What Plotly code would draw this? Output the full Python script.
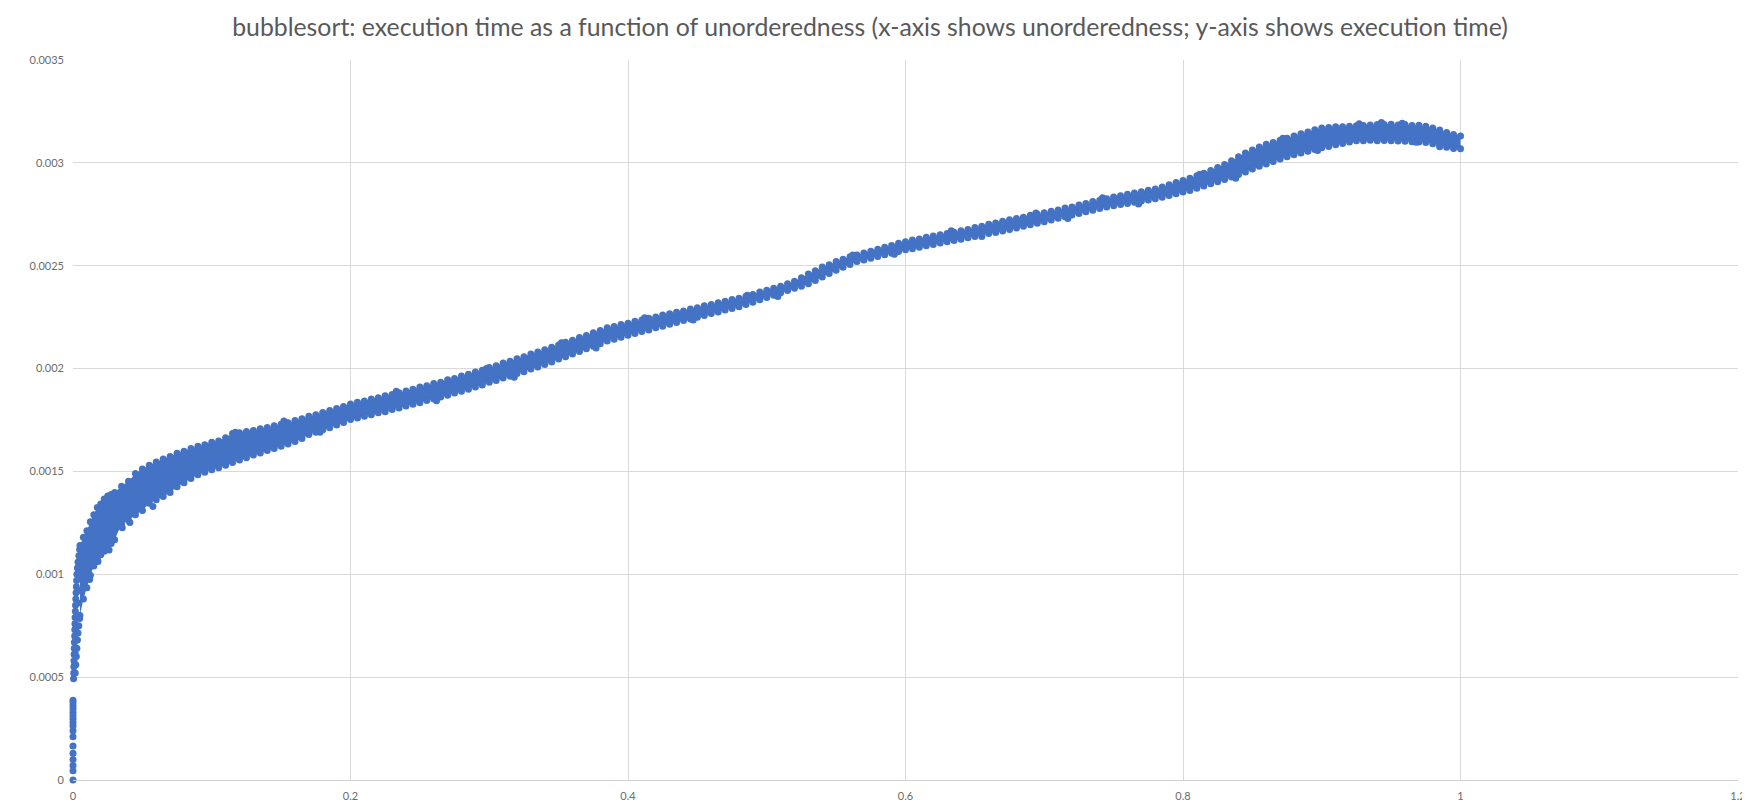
import plotly.graph_objects as go
import numpy as np

# ---- data (x: unorderedness in thousandths, y: execution time in microseconds) ----
# near-vertical column of points at very small unorderedness
col_x_milli = [0, 0, 0, 0, 0, 0, 0, 0, 0, 0, 0, 0, 0, 0, 0, 0, 0,
               0.4, 0.5, 0.6, 0.7, 0.8, 0.9, 1.0, 1.2, 1.3, 1.4, 1.5, 1.7, 1.8, 2.0, 2.2, 2.4, 2.6, 2.8, 3.2, 3.6, 4.2, 4.8,
               1.6, 2.0, 2.4, 2.8, 3.2, 3.6, 4.2, 4.8,
               1.2, 1.5, 1.9, 2.2, 2.8, 3.4, 4.0, 4.4, 3.8, 4.5]
col_y_us = [0, 45, 70, 100, 130, 165, 210, 240, 262, 280, 296, 312, 328, 345, 360, 375, 388,
            492, 520, 550, 580, 610, 640, 670, 700, 730, 760, 790, 820, 850, 880, 910, 940, 970, 1000, 1030, 1060, 1090, 1120,
            520, 560, 600, 640, 680, 715, 750, 785,
            560, 620, 680, 740, 800, 860, 920, 980, 1000, 1040]

# dense band of points: lower and upper envelope at each unorderedness station
band_x_milli = [5, 7.5, 10, 12.5, 15, 17.5, 20, 22.5, 25, 27.5, 30, 35, 40, 45, 50, 55, 60, 65, 70, 75,
                80, 85, 90, 95, 100, 105, 110, 115, 120, 125, 130, 135, 140, 145, 150, 155, 160, 165, 170, 175,
                180, 185, 190, 195, 200, 205, 210, 215, 220, 225, 230, 235, 240, 245, 250, 255, 260, 265, 270, 275,
                280, 285, 290, 295, 300, 305, 310, 315, 320, 325, 330, 335, 340, 345, 350, 355, 360, 365, 370, 375,
                380, 385, 390, 395, 400, 405, 410, 415, 420, 425, 430, 435, 440, 445, 450, 455, 460, 465, 470, 475,
                480, 485, 490, 495, 500, 505, 510, 515, 520, 525, 530, 535, 540, 545, 550, 555, 560, 565, 570, 575,
                580, 585, 590, 595, 600, 605, 610, 615, 620, 625, 630, 635, 640, 645, 650, 655, 660, 665, 670, 675,
                680, 685, 690, 695, 700, 705, 710, 715, 720, 725, 730, 735, 740, 745, 750, 755, 760, 765, 770, 775,
                780, 785, 790, 795, 800, 805, 810, 815, 820, 825, 830, 835, 840, 845, 850, 855, 860, 865, 870, 875,
                880, 885, 890, 895, 900, 905, 910, 915, 920, 925, 930, 935, 940, 945, 950, 955, 960, 965, 970, 975,
                980, 985, 990, 995, 1000]
band_lo_us = [800, 880, 935, 995, 1040, 1075, 1095, 1112, 1125, 1150, 1168, 1245, 1262, 1290, 1310, 1345, 1362, 1378, 1398, 1425,
              1445, 1466, 1484, 1496, 1508, 1518, 1530, 1543, 1556, 1566, 1580, 1590, 1602, 1611, 1622, 1633, 1645, 1660, 1680, 1690,
              1702, 1712, 1726, 1738, 1752, 1760, 1768, 1776, 1785, 1790, 1801, 1808, 1818, 1826, 1834, 1845, 1852, 1862, 1870, 1881,
              1890, 1900, 1911, 1920, 1933, 1942, 1954, 1963, 1976, 1985, 1998, 2008, 2020, 2032, 2046, 2058, 2071, 2083, 2096, 2108,
              2121, 2134, 2143, 2152, 2162, 2170, 2180, 2188, 2198, 2206, 2216, 2224, 2234, 2241, 2250, 2258, 2268, 2275, 2285, 2292,
              2301, 2312, 2322, 2335, 2345, 2356, 2368, 2379, 2390, 2400, 2412, 2428, 2445, 2462, 2478, 2492, 2506, 2520, 2528, 2536,
              2545, 2553, 2561, 2569, 2577, 2583, 2590, 2597, 2603, 2610, 2616, 2622, 2629, 2636, 2642, 2649, 2656, 2662, 2669, 2676,
              2683, 2692, 2699, 2707, 2714, 2722, 2731, 2738, 2746, 2754, 2762, 2770, 2778, 2786, 2791, 2797, 2803, 2808, 2814, 2820,
              2825, 2833, 2841, 2850, 2858, 2866, 2876, 2887, 2898, 2908, 2919, 2931, 2944, 2956, 2970, 2983, 2995, 3006, 3019, 3030,
              3040, 3048, 3057, 3065, 3074, 3080, 3088, 3094, 3101, 3108, 3108, 3110, 3107, 3109, 3108, 3106, 3105, 3103, 3101, 3099,
              3093, 3085, 3076, 3070, 3068]
band_hi_us = [1140, 1180, 1212, 1255, 1290, 1325, 1342, 1366, 1380, 1388, 1398, 1428, 1452, 1490, 1512, 1530, 1546, 1560, 1572, 1588,
              1598, 1612, 1622, 1630, 1642, 1648, 1664, 1684, 1688, 1694, 1699, 1708, 1714, 1722, 1729, 1737, 1748, 1756, 1768, 1776,
              1786, 1796, 1806, 1816, 1828, 1836, 1842, 1852, 1858, 1868, 1874, 1882, 1891, 1899, 1910, 1917, 1928, 1934, 1946, 1952,
              1964, 1972, 1983, 1992, 2005, 2014, 2027, 2036, 2048, 2058, 2071, 2080, 2092, 2104, 2114, 2128, 2138, 2151, 2161, 2174,
              2185, 2198, 2205, 2214, 2220, 2230, 2236, 2245, 2251, 2260, 2267, 2274, 2280, 2290, 2296, 2305, 2311, 2320, 2327, 2336,
              2342, 2351, 2360, 2372, 2381, 2391, 2400, 2412, 2424, 2442, 2460, 2476, 2494, 2505, 2520, 2532, 2543, 2552, 2562, 2570,
              2580, 2590, 2598, 2609, 2617, 2625, 2630, 2638, 2644, 2651, 2656, 2663, 2670, 2676, 2686, 2692, 2701, 2708, 2716, 2723,
              2730, 2736, 2745, 2750, 2758, 2765, 2771, 2780, 2786, 2795, 2802, 2812, 2818, 2826, 2834, 2840, 2847, 2854, 2860, 2867,
              2873, 2883, 2894, 2904, 2914, 2925, 2937, 2950, 2963, 2978, 2992, 3010, 3030, 3048, 3063, 3077, 3090, 3099, 3110, 3120,
              3130, 3141, 3150, 3161, 3170, 3172, 3176, 3175, 3178, 3180, 3182, 3184, 3186, 3186, 3188, 3184, 3186, 3182, 3183, 3178,
              3170, 3160, 3148, 3138, 3130]

# isolated points sticking out of the band
extra_x_milli = [35.5, 57.6, 26, 41, 117, 12, 18,
                 152, 178, 233, 262, 298, 318, 352, 377, 412, 447, 486, 508, 562, 592,
                 633, 655, 694, 717, 742, 768, 812, 838, 872, 897, 927, 943, 958, 968, 985]
extra_y_us = [1226, 1329, 1118, 1252, 1690, 975, 1062,
              1745, 1690, 1890, 1843, 2000, 1958, 2125, 2100, 2247, 2236, 2357, 2350, 2552, 2556,
              2670, 2642, 2756, 2730, 2830, 2800, 2945, 2925, 3120, 3060, 3190, 3196, 3193, 3100, 3078]

# axis ticks
x_tick_vals = [0, 0.2, 0.4, 0.6, 0.8, 1.0, 1.2]
x_tick_text = ["0", "0.2", "0.4", "0.6", "0.8", "1", "1.2"]
y_tick_vals = [0, 0.0005, 0.001, 0.0015, 0.002, 0.0025, 0.003, 0.0035]
y_tick_text = ["0", "0.0005", "0.001", "0.0015", "0.002", "0.0025", "0.003", "0.0035"]

TITLE = "bubblesort: execution time as a function of unorderedness (x-axis shows unorderedness; y-axis shows execution time)"
BLUE = "#4472C4"

# unit conversion
def xs(v):
    return [a / 1000.0 for a in v]

def ys(v):
    return [a * 1e-6 for a in v]

fig = go.Figure()

# dense band of overlapping points (filled between its envelopes)
poly_x = xs(band_x_milli) + xs(band_x_milli[::-1])
poly_y = ys(band_lo_us) + ys(band_hi_us[::-1])
fig.add_trace(go.Scatter(x=poly_x, y=poly_y, mode="none", fill="toself",
                         fillcolor=BLUE, hoverinfo="skip", showlegend=False))

all_x = xs(col_x_milli) + xs(band_x_milli) + xs(band_x_milli) + xs(extra_x_milli)
all_y = ys(col_y_us) + ys(band_lo_us) + ys(band_hi_us) + ys(extra_y_us)
fig.add_trace(go.Scatter(x=all_x, y=all_y, mode="markers",
                         marker=dict(size=7, color=BLUE, line=dict(width=0)),
                         cliponaxis=False, showlegend=False))

tick_font = dict(family="Lato, Open Sans, sans-serif", size=11, color="#6b6b6b")

fig.update_layout(
    width=1750, height=806,
    margin=dict(l=65, r=18, t=52, b=29),
    paper_bgcolor="white", plot_bgcolor="white",
    title=dict(text=TITLE, x=862 / 1750, xanchor="center", y=1 - 19 / 806, yanchor="middle",
               yref="container", xref="container",
               font=dict(family="Lato, Open Sans, sans-serif", size=24.8, color="#595959")),
    xaxis=dict(range=[0, 1.2], tickvals=x_tick_vals, ticktext=x_tick_text,
               showgrid=True, gridcolor="#D9D9D9", gridwidth=1, zeroline=False,
               showline=True, linecolor="#D0D0D0", linewidth=1,
               ticks="", tickfont=tick_font, ticklabelstandoff=6),
    yaxis=dict(range=[0, 0.0035], tickvals=y_tick_vals, ticktext=y_tick_text,
               showgrid=True, gridcolor="#D9D9D9", gridwidth=1, zeroline=False,
               showline=False, ticks="", tickfont=tick_font, ticklabelstandoff=8),
)

fig.write_html("out.html")
